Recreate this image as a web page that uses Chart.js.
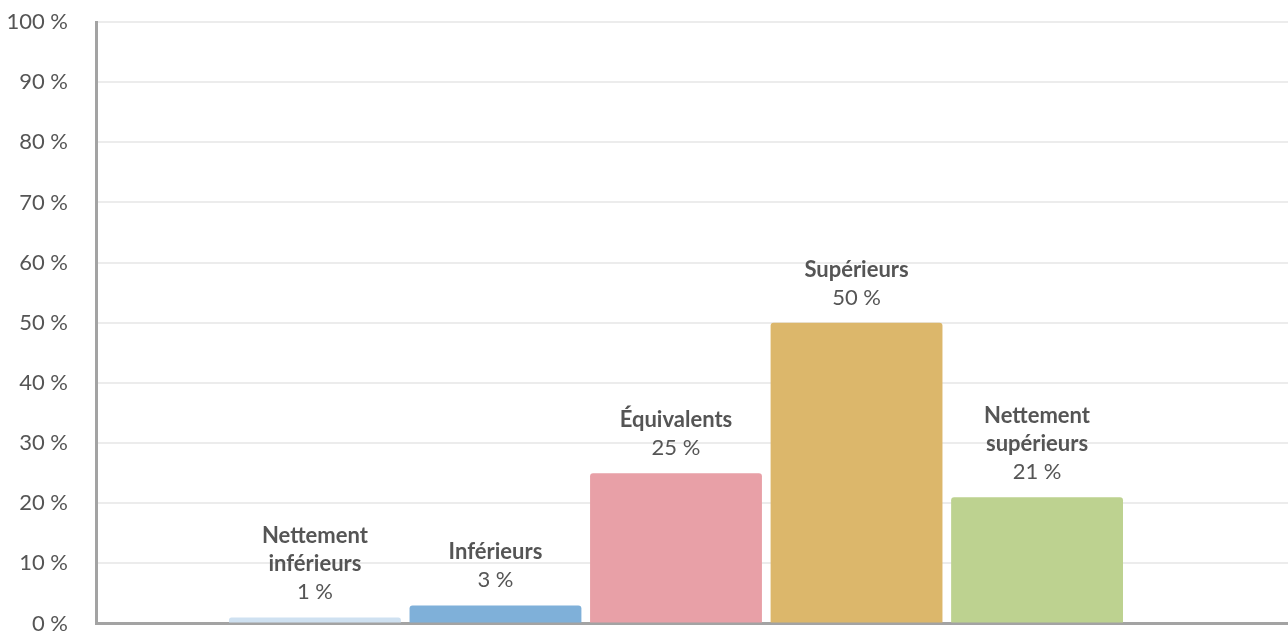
<!DOCTYPE html>
<html>
<head>
<meta charset="utf-8">
<script src="https://cdn.jsdelivr.net/npm/chart.js@4/dist/chart.umd.min.js"></script>
<style>
  html, body { margin: 0; padding: 0; background: #fff; }
  #wrap { width: 1288px; height: 632px; }
</style>
</head>
<body>
<div id="wrap"><canvas id="graphique"></canvas></div>
<script>
// categories (one entry per bar, split in display lines)
var categories = [
    ['Nettement', 'inférieurs'],
    ['Inférieurs'],
    ['Équivalents'],
    ['Supérieurs'],
    ['Nettement', 'supérieurs']
];
var valeurs = [1, 3, 25, 50, 21];
var couleurs = ['#cfe1f1', '#7fb0d9', '#e8a0a7', '#dcb76b', '#bdd290'];
var ticksY = [0, 10, 20, 30, 40, 50, 60, 70, 80, 90, 100];

var police = 'Lato, "Noto Sans", sans-serif';

// bars sit at x = 1..5 on a linear axis, so the empty margins left/right match
var points = valeurs.map(function(v, i) { return { x: i + 1, y: v }; });

// texte au-dessus des barres
var etiquettes = {
    id: 'etiquettes',
    afterDatasetsDraw: function(chart) {
        var ctx = chart.ctx;
        var meta = chart.getDatasetMeta(0);
        ctx.save();
        ctx.textAlign = 'center';
        ctx.textBaseline = 'alphabetic';
        ctx.fillStyle = '#555555';
        meta.data.forEach(function(bar, i) {
            var yVal = bar.y - 18;
            ctx.font = '22px ' + police;
            ctx.fillText(valeurs[i] + ' %', bar.x, yVal);
            ctx.font = 'bold 22px ' + police;
            var lignes = categories[i];
            for (var k = lignes.length - 1; k >= 0; k--) {
                var y = yVal - 28 * (lignes.length - k);
                ctx.fillText(lignes[k], bar.x, y);
            }
        });
        ctx.restore();
    }
};

var ctx = document.getElementById('graphique').getContext('2d');
var graphique = new Chart(ctx, {
    type: 'bar',
    data: {
        datasets: [{
            data: points,
            backgroundColor: couleurs,
            borderRadius: { topLeft: 3, topRight: 3 },
            borderSkipped: 'start',
            categoryPercentage: 0.952,
            barPercentage: 1
        }]
    },
    options: {
        responsive: true,
        maintainAspectRatio: false,
        animation: false,
        layout: { padding: { top: 22, bottom: 8.5, left: 0, right: 0 } },
        plugins: {
            legend: { display: false },
            tooltip: { enabled: false }
        },
        scales: {
            x: {
                type: 'linear',
                min: -0.21,
                max: 6.39,
                offset: false,
                z: 1,
                grid: { display: false, drawTicks: false, offset: false },
                border: { display: true, color: '#a3a3a3', width: 3 },
                ticks: { display: false },
                afterBuildTicks: function(scale) {
                    scale.ticks = [0, 1, 2, 3, 4, 5, 6].map(function(v) { return { value: v }; });
                }
            },
            y: {
                min: 0,
                max: 100,
                grid: { color: '#ececec', lineWidth: 2, drawTicks: false },
                border: { display: true, color: '#a3a3a3', width: 3 },
                ticks: {
                    padding: 28.5,
                    color: '#555555',
                    font: { family: police, size: 22 },
                    callback: function(v) { return v + ' %'; }
                },
                afterBuildTicks: function(scale) {
                    scale.ticks = ticksY.map(function(v) { return { value: v }; });
                },
                afterFit: function(scale) {
                    scale.width = 96.5;
                    scale.paddingTop = 0;
                    scale.paddingBottom = 0;
                }
            }
        }
    },
    plugins: [etiquettes]
});
</script>
</body>
</html>
